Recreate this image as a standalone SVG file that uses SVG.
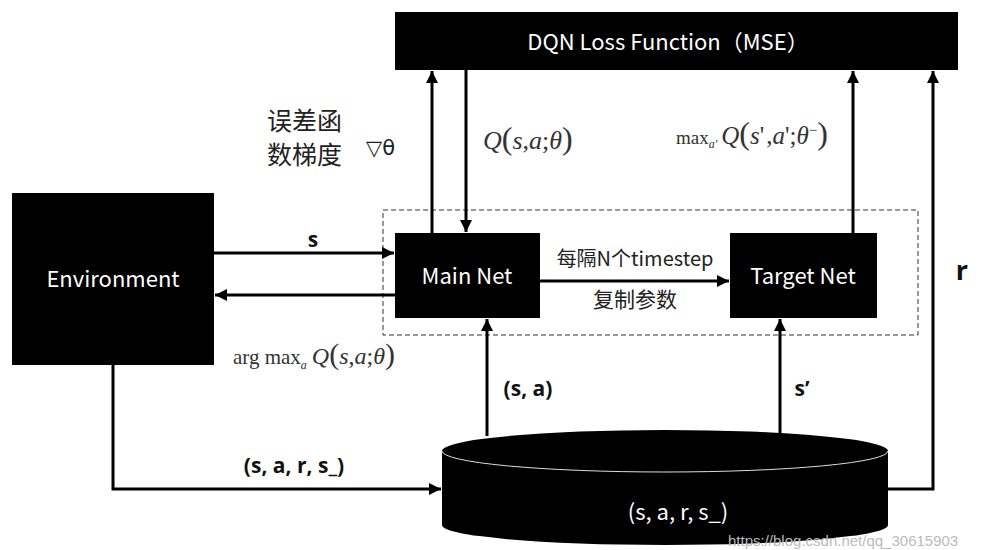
<svg xmlns="http://www.w3.org/2000/svg" width="985" height="550" viewBox="0 0 985 550">
  <defs>
    <marker id="arrow" viewBox="0 0 10 10" refX="10" refY="5" markerWidth="4" markerHeight="4" orient="auto" markerUnits="strokeWidth">
      <path d="M0,0 L10,5 L0,10 z" fill="#000"/>
    </marker>
    <style>
      .box { fill: #000; }
      .boxtext { fill: #fff; font-family: "Noto Sans CJK SC", "Open Sans", sans-serif; font-size: 22px; text-anchor: middle; }
      .conn { stroke: #000; stroke-width: 3; fill: none; }
      .lbl { fill: #111; font-family: "Open Sans", "Liberation Sans", sans-serif; font-weight: bold; font-size: 21px; text-anchor: middle; }
      .cn { fill: #222; font-family: "Noto Sans CJK SC", sans-serif; font-size: 20px; }
      .math { fill: #333; font-family: "Liberation Serif", serif; font-size: 26px; }
      .it { font-style: italic; }
    </style>
  </defs>

  <rect width="985" height="550" fill="#fff"/>

  <!-- loss function -->
  <g id="loss">
    <rect class="box" x="395" y="12" width="563" height="58"/>
    <text class="boxtext" x="668" y="50">DQN Loss Function（MSE）</text>
  </g>

  <!-- environment -->
  <g id="environment">
    <rect class="box" x="12" y="193" width="202" height="172"/>
    <text class="boxtext" x="113" y="287">Environment</text>
  </g>

  <!-- network group boundary -->
  <rect id="nets" x="383" y="210" width="535" height="125" fill="none" stroke="#333" stroke-width="1" stroke-dasharray="5,3"/>

  <g id="main-net">
    <rect class="box" x="395" y="233" width="145" height="85"/>
    <text class="boxtext" x="467" y="284">Main Net</text>
  </g>

  <g id="target-net">
    <rect class="box" x="730" y="233" width="147" height="85"/>
    <text class="boxtext" x="803" y="284">Target Net</text>
  </g>

  <!-- replay memory -->
  <g id="memory">
    <path class="box" d="M442,451 L442,525 A223,20 0 0 0 888,525 L888,451 A223,21 0 0 0 442,451 z"/>
    <path d="M442,451 A223,21 0 0 0 888,451" fill="none" stroke="#ddd" stroke-width="1"/>
    <text class="boxtext" x="678" y="520">(s, a, r, s_)</text>
  </g>

  <!-- connectors -->
  <g id="connectors">
    <line class="conn" x1="432" y1="233" x2="432" y2="71" marker-end="url(#arrow)"/>
    <line class="conn" x1="466" y1="70" x2="466" y2="232" marker-end="url(#arrow)"/>
    <line class="conn" x1="853" y1="233" x2="853" y2="71" marker-end="url(#arrow)"/>
    <polyline class="conn" points="888,489 933,489 933,71" marker-end="url(#arrow)"/>
    <line class="conn" x1="214" y1="253" x2="394" y2="253" marker-end="url(#arrow)"/>
    <line class="conn" x1="395" y1="295" x2="215" y2="295" marker-end="url(#arrow)"/>
    <line class="conn" x1="540" y1="281" x2="729" y2="281" marker-end="url(#arrow)"/>
    <line class="conn" x1="487" y1="436" x2="487" y2="319" marker-end="url(#arrow)"/>
    <line class="conn" x1="780" y1="436" x2="780" y2="319" marker-end="url(#arrow)"/>
    <polyline class="conn" points="113,365 113,489 441,489" marker-end="url(#arrow)"/>
  </g>

  <!-- connector labels -->
  <g id="labels">
    <text class="cn" x="267" y="130" style="font-size:25px">误差函</text>
    <text class="cn" x="267" y="164" style="font-size:25px">数梯度</text>
    <text x="366" y="155" font-family="DejaVu Sans, sans-serif" font-size="21" fill="#222">▽θ</text>

    <text class="math" x="483" y="149"><tspan class="it">Q</tspan><tspan font-size="32">(</tspan><tspan class="it">s</tspan>,<tspan class="it">a</tspan>;<tspan class="it">θ</tspan><tspan font-size="32">)</tspan></text>

    <text class="math" x="676" y="144" style="font-size:25px"><tspan font-size="19">max</tspan><tspan class="it" font-size="12" dy="4">a'</tspan><tspan class="it" dy="-4" dx="4">Q</tspan><tspan font-size="32">(</tspan><tspan class="it">s</tspan>'<tspan dx="2">,</tspan><tspan class="it">a</tspan>';<tspan class="it">θ</tspan><tspan font-size="15" dy="-9">−</tspan><tspan font-size="32" dy="9">)</tspan></text>

    <text class="lbl" x="313" y="247">s</text>
    <text class="math" x="233" y="364" style="font-size:24px"><tspan font-size="21">arg max</tspan><tspan class="it" font-size="12" dy="5">a</tspan><tspan class="it" dy="-5" dx="5">Q</tspan><tspan font-size="30">(</tspan><tspan class="it">s</tspan>,<tspan class="it">a</tspan>;<tspan class="it">θ</tspan><tspan font-size="30">)</tspan></text>

    <text class="cn" x="635" y="266" text-anchor="middle">每隔N个timestep</text>
    <text class="cn" x="635" y="307" text-anchor="middle" style="font-size:21px">复制参数</text>

    <text class="lbl" x="528" y="396">(s, a)</text>
    <text class="lbl" x="802" y="396">s’</text>
    <text class="lbl" x="962" y="280" style="font-size:27px">r</text>
    <text class="lbl" x="294" y="473">(s, a, r, s_)</text>
  </g>

  <text x="728" y="546" font-family="Liberation Sans, sans-serif" font-size="15" fill="#bbb">https://blog.csdn.net/qq_30615903</text>
</svg>
